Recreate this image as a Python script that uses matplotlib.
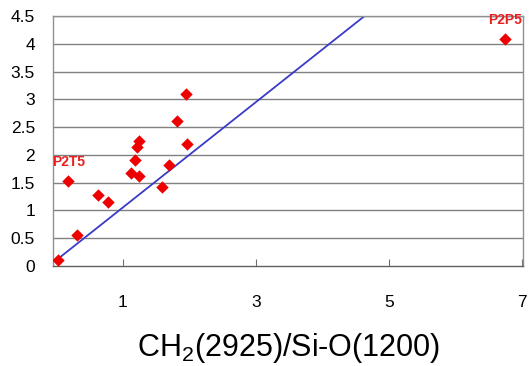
import matplotlib.pyplot as plt

plt.rcParams['font.family'] = ['Liberation Sans', 'DejaVu Sans']
plt.rcParams['mathtext.fontset'] = 'custom'
plt.rcParams['mathtext.rm'] = 'Liberation Sans'

# ratio data
x_vals = [0.02, 0.18, 0.31, 0.62, 0.78, 1.12, 1.19, 1.22, 1.24, 1.25,
          1.59, 1.70, 1.82, 1.95, 1.96, 6.75]
y_vals = [0.11, 1.52, 0.55, 1.27, 1.15, 1.68, 1.91, 2.14, 2.24, 1.62,
          1.42, 1.81, 2.60, 3.09, 2.19, 4.08]

# fitted line endpoints
line_x = [0.0, 4.75]
line_y = [0.1, 4.61]

labels = ["P2T5", "P2P5"]
label_x = [0.18, 6.75]
label_y = [1.52, 4.08]

xticks = [1, 3, 5, 7]
yticks = [0, 0.5, 1, 1.5, 2, 2.5, 3, 3.5, 4, 4.5]

fig = plt.figure(figsize=(5.3, 3.66), dpi=100)
ax = fig.add_axes([0.1, 0.274, 0.887, 0.682])

for y in yticks[1:]:
    ax.axhline(y, color='#808080', lw=1, zorder=1)

ax.plot(line_x, line_y, color='#3a3ac8', lw=1.3, zorder=2)
ax.scatter(x_vals, y_vals, marker='D', s=40, color='#ee0000', zorder=3,
           linewidths=0)

for t, lx, ly in zip(labels, label_x, label_y):
    ax.annotate(t, (lx, ly), xytext=(0, 9), textcoords='offset points',
                ha='center', va='bottom', color='#e82020', fontsize=10,
                fontweight='bold')

ax.set_xlim(-0.05, 7.02)
ax.set_ylim(0, 4.5)
ax.set_xticks(xticks)
ax.set_yticks(yticks)
ax.set_yticklabels(["0", "0.5", "1", "1.5", "2", "2.5", "3", "3.5", "4", "4.5"])
ax.tick_params(axis='x', direction='in', length=5, pad=21, labelsize=12.5,
               color='#707070')
ax.tick_params(axis='y', length=0, pad=13, labelsize=12.5)

for s in ax.spines.values():
    s.set_color('#909090')
    s.set_linewidth(1)
ax.spines['bottom'].set_color('#606060')

ax.set_xlabel(r'CH$_\mathregular{2}$(2925)/Si-O(1200)', fontsize=22, labelpad=15)

fig.savefig('out.png', dpi=100)
